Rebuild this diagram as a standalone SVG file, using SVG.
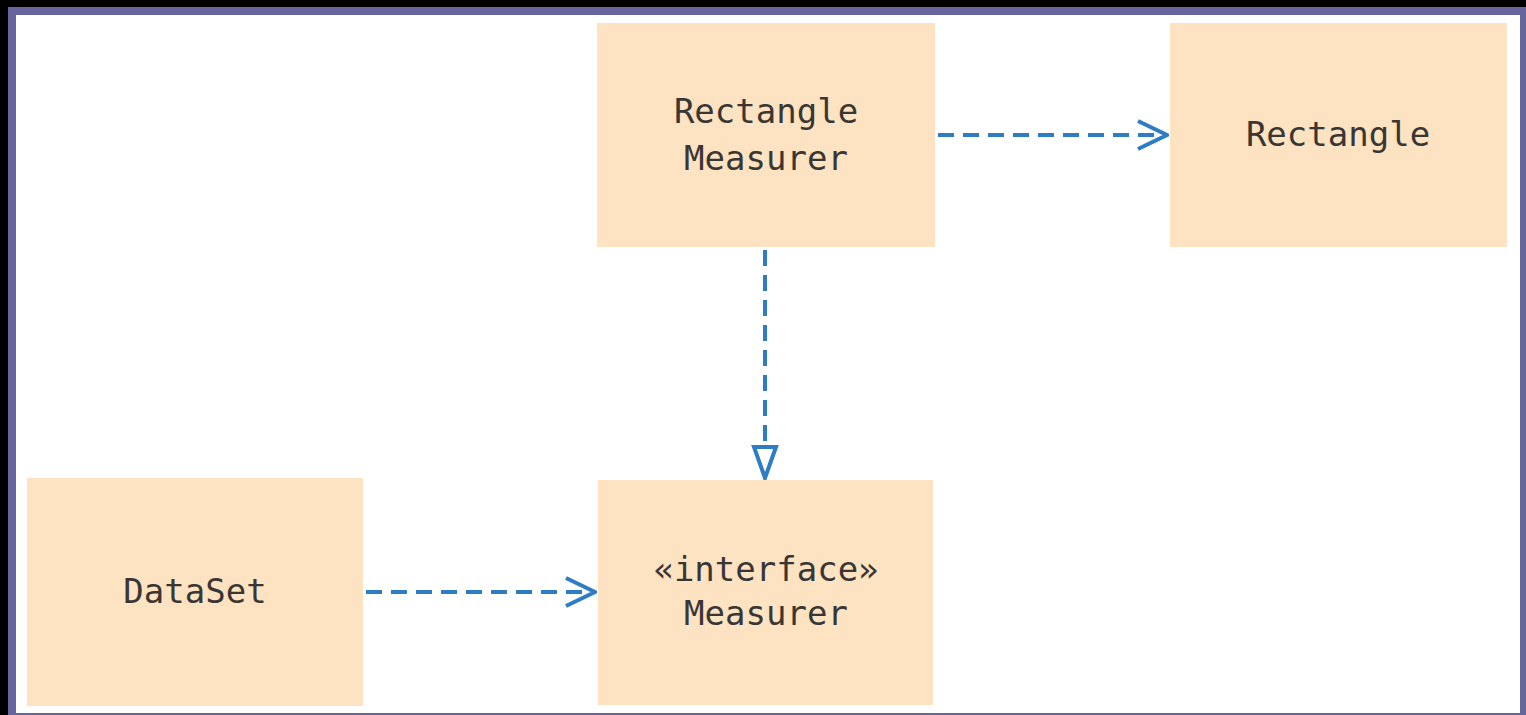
<svg xmlns="http://www.w3.org/2000/svg" width="1526" height="715" viewBox="0 0 1526 715">
  <style>
    .box { fill: #fde3c1; }
    .label { font-family: "DejaVu Sans Mono", "Liberation Mono", monospace; font-size: 34px; fill: #3a3634; text-anchor: middle; }
    .dep { fill: none; stroke: #2e7cc4; stroke-width: 4; stroke-dasharray: 16 9; }
  </style>
  <defs>
    <marker id="open" viewBox="0 0 34 34" refX="32" refY="17" markerWidth="34" markerHeight="34" markerUnits="userSpaceOnUse" orient="auto">
      <path d="M3 3 L32 17 L3 31" fill="none" stroke="#2e7cc4" stroke-width="4"/>
    </marker>
    <marker id="realize" viewBox="0 0 36 28" refX="34" refY="14" markerWidth="36" markerHeight="28" markerUnits="userSpaceOnUse" orient="auto">
      <path d="M3 3 L34 14 L3 25 Z" fill="#ffffff" stroke="#2e7cc4" stroke-width="4" stroke-linejoin="miter"/>
    </marker>
  </defs>

  <!-- frame -->
  <rect x="0" y="0" width="1526" height="715" fill="#000000"/>
  <rect x="8" y="7" width="1518" height="708" fill="#66669c"/>
  <rect x="16" y="15" width="1504" height="698" fill="#ffffff"/>

  <g id="rectangle-measurer">
    <rect class="box" x="597" y="23" width="338" height="224"/>
    <text class="label" x="766" y="123">Rectangle</text>
    <text class="label" x="766" y="170">Measurer</text>
  </g>

  <g id="rectangle">
    <rect class="box" x="1170" y="23" width="337" height="224"/>
    <text class="label" x="1338" y="146">Rectangle</text>
  </g>

  <g id="dataset">
    <rect class="box" x="27" y="478" width="336" height="228"/>
    <text class="label" x="195" y="603">DataSet</text>
  </g>

  <g id="measurer">
    <rect class="box" x="598" y="480" width="335" height="225"/>
    <text class="label" x="766" y="581">«interface»</text>
    <text class="label" x="766" y="625">Measurer</text>
  </g>

  <g id="connectors">
    <line class="dep" x1="938" y1="135" x2="1167" y2="135" marker-end="url(#open)"/>
    <line class="dep" x1="765" y1="250" x2="765" y2="478" marker-end="url(#realize)"/>
    <line class="dep" x1="366" y1="592" x2="595" y2="592" marker-end="url(#open)"/>
  </g>
</svg>
